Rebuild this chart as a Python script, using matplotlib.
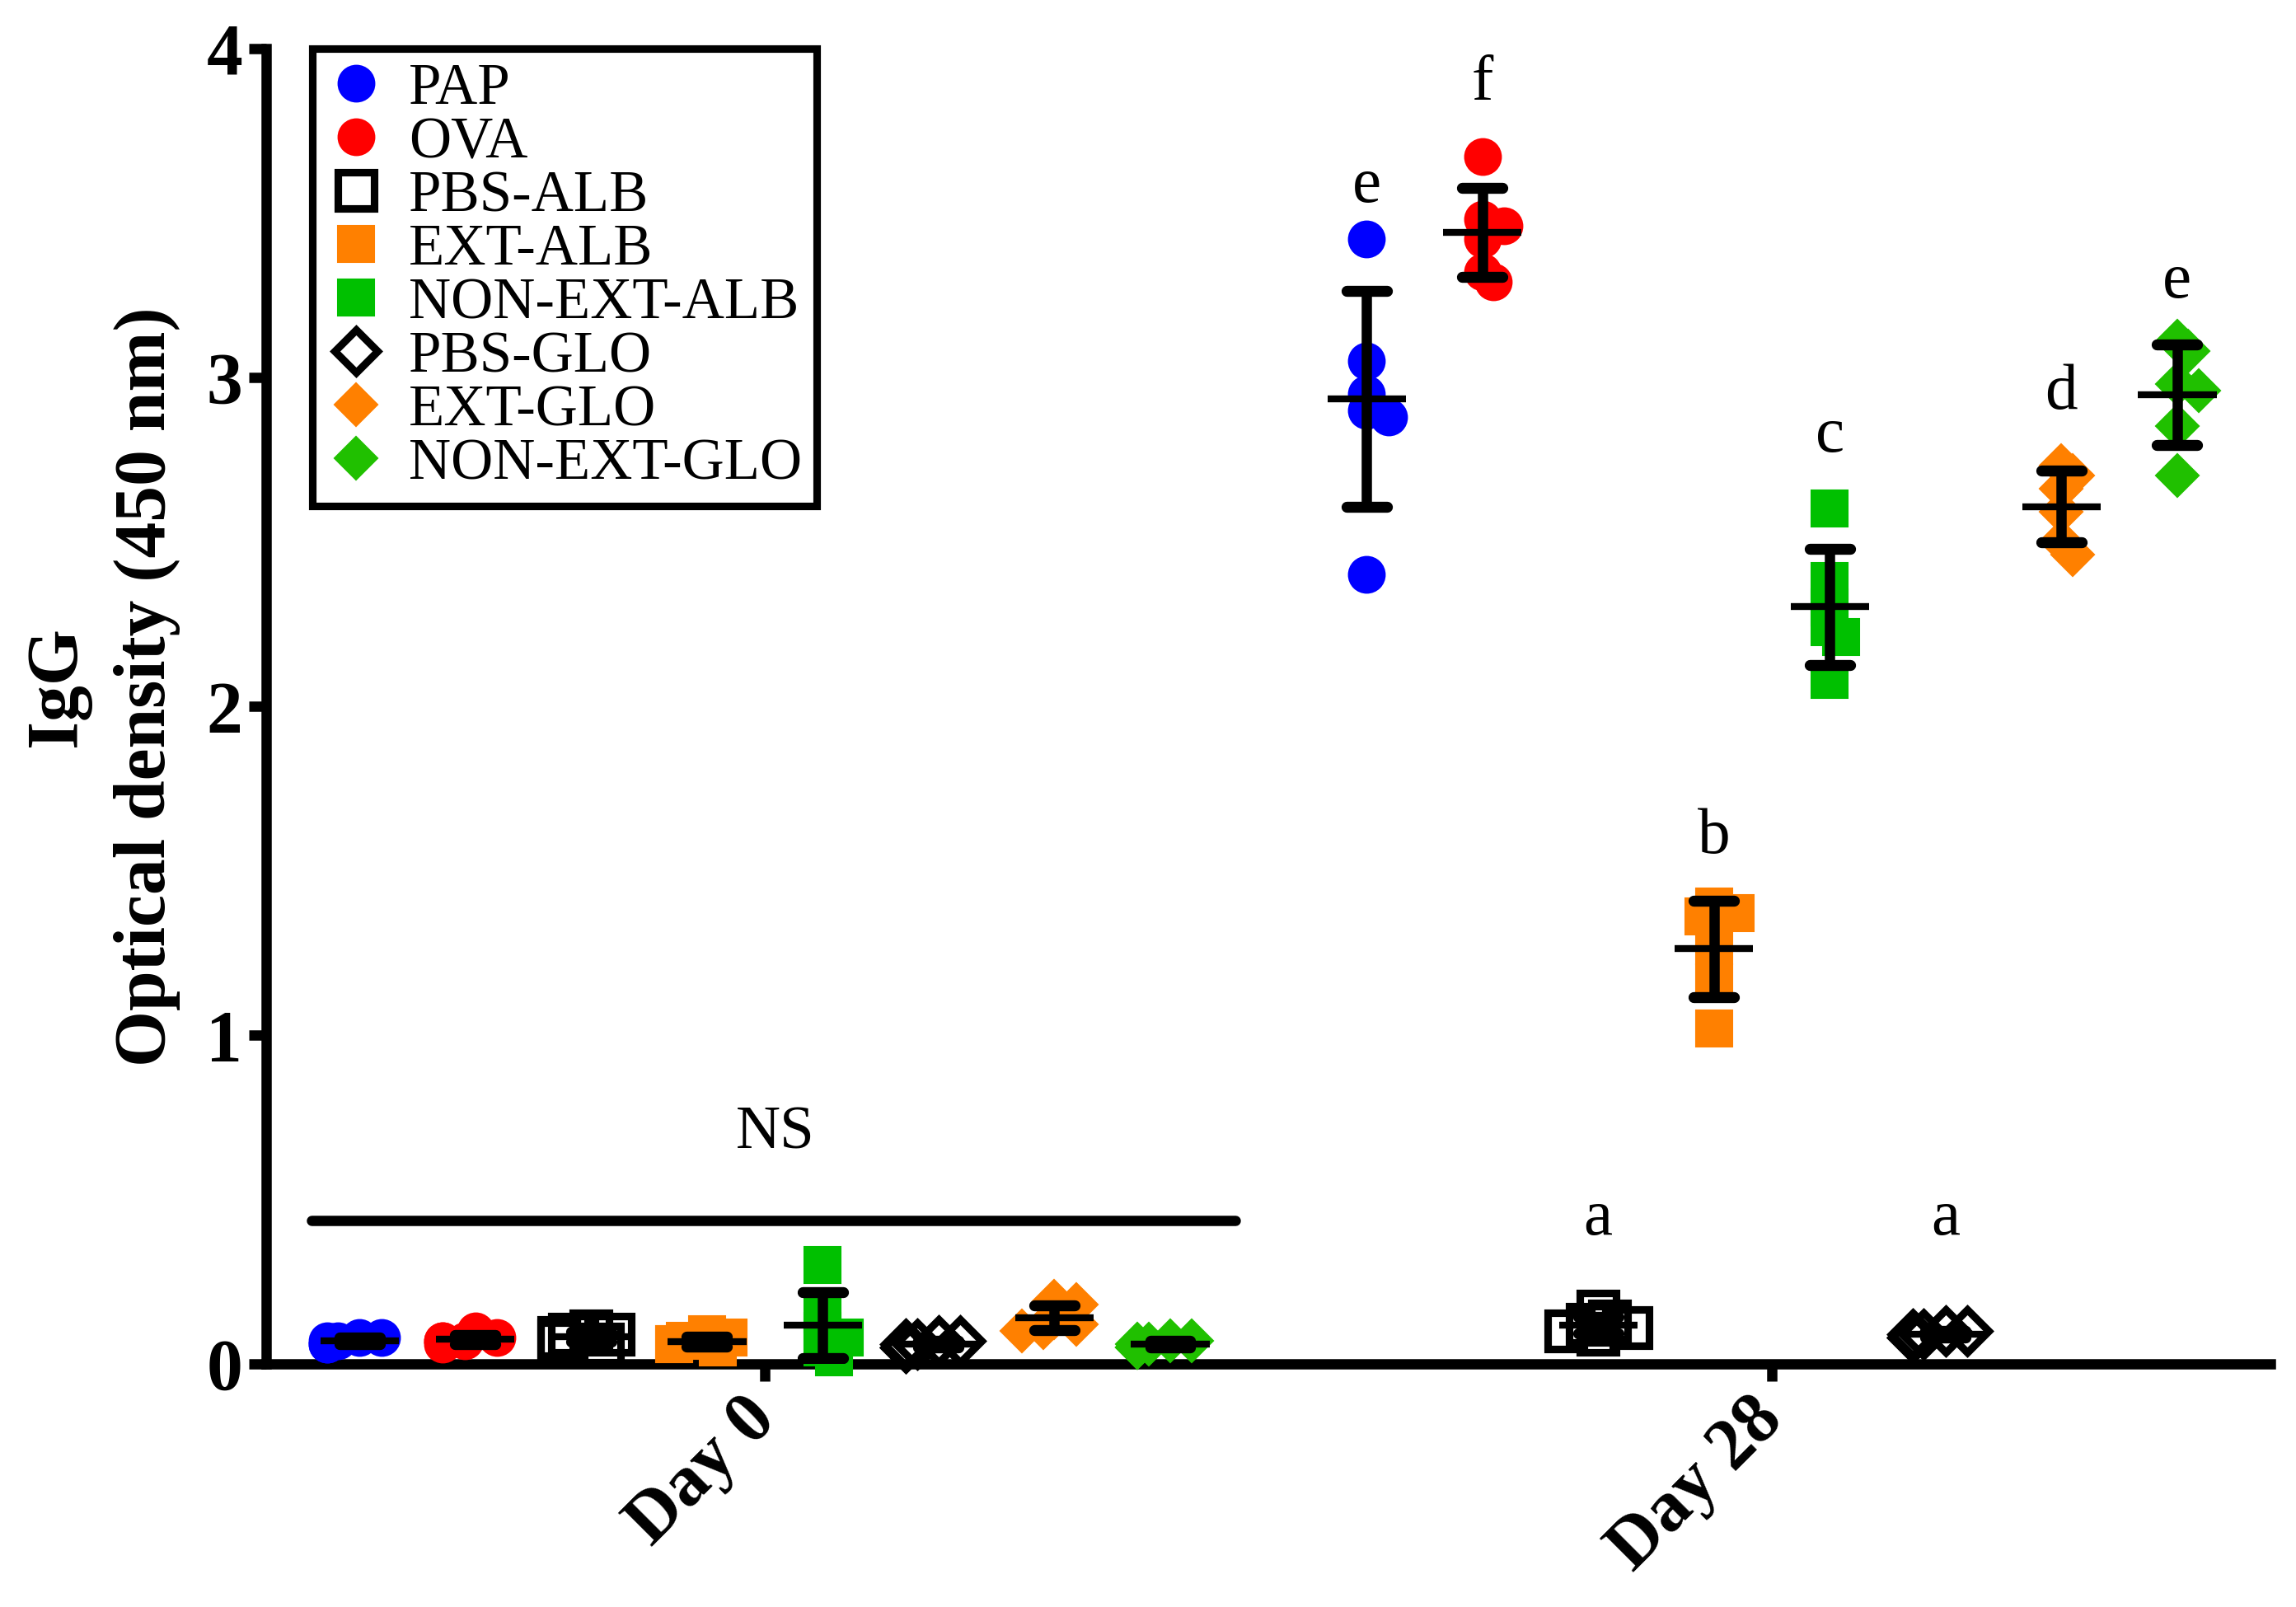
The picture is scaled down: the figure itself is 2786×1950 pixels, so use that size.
import numpy as np
import matplotlib
matplotlib.use('Agg')
import matplotlib.pyplot as plt
from matplotlib.lines import Line2D

plt.rcParams['font.family'] = ['Liberation Serif', 'DejaVu Serif']

# Datos (densidad óptica IgG, 450 nm)
days = ['Day 0', 'Day 28']
groups = ['PAP', 'OVA', 'PBS-ALB', 'EXT-ALB', 'NON-EXT-ALB', 'PBS-GLO', 'EXT-GLO', 'NON-EXT-GLO']

day0 = {
    'PAP': [0.06, 0.07, 0.07, 0.08, 0.08, 0.06],
    'OVA': [0.06, 0.07, 0.07, 0.08, 0.10, 0.07],
    'PBS-ALB': [0.09, 0.10, 0.07, 0.06, 0.08, 0.09],
    'EXT-ALB': [0.05, 0.06, 0.07, 0.08, 0.09, 0.06],
    'NON-EXT-ALB': [0.30, 0.15, 0.10, 0.08, 0.05, 0.02],
    'PBS-GLO': [0.05, 0.06, 0.07, 0.06, 0.07, 0.05],
    'EXT-GLO': [0.19, 0.18, 0.14, 0.12, 0.11, 0.10],
    'NON-EXT-GLO': [0.05, 0.06, 0.07, 0.06, 0.07, 0.05],
}
day28 = {
    'PAP': [3.42, 3.05, 2.95, 2.90, 2.88, 2.40],
    'OVA': [3.67, 3.48, 3.46, 3.42, 3.32, 3.29],
    'PBS-ALB': [0.16, 0.13, 0.12, 0.11, 0.10, 0.09],
    'EXT-ALB': [1.39, 1.37, 1.36, 1.27, 1.16, 1.02],
    'NON-EXT-ALB': [2.60, 2.38, 2.30, 2.24, 2.21, 2.08],
    'PBS-GLO': [0.10, 0.10, 0.09, 0.09, 0.08, 0.08],
    'EXT-GLO': [2.73, 2.70, 2.66, 2.59, 2.50, 2.46],
    'NON-EXT-GLO': [3.11, 3.08, 2.98, 2.96, 2.85, 2.70],
}
# Letras de significancia (día 28) y su altura
letters = ['e', 'f', 'a', 'b', 'c', 'a', 'd', 'e']
letter_y = [3.58, 3.89, 0.44, 1.60, 2.82, 0.44, 2.95, 3.29]
# Estilo por grupo: (marcador, relleno, borde)
styles = {
    'PAP': ('o', '#0000FF', '#0000FF'),
    'OVA': ('o', '#FF0000', '#FF0000'),
    'PBS-ALB': ('s', 'none', 'black'),
    'EXT-ALB': ('s', '#FF8000', '#FF8000'),
    'NON-EXT-ALB': ('s', '#00C000', '#00C000'),
    'PBS-GLO': ('D', 'none', 'black'),
    'EXT-GLO': ('D', '#FF8000', '#FF8000'),
    'NON-EXT-GLO': ('D', '#20C000', '#20C000'),
}

def swarm(vals, dx, dy):
    # reparte los puntos en horizontal (poco) para que no se tapen del todo
    vals = np.asarray(vals, dtype=float)
    offs = np.zeros(len(vals))
    placed = []
    for i in np.argsort(-vals):
        for k in [0, 1, -1, 2, -2, 3, -3]:
            ox = k * 0.3 * dx
            ok = True
            for (px, py) in placed:
                if ((ox - px) / dx) ** 2 + ((vals[i] - py) / dy) ** 2 < 0.4 ** 2:
                    ok = False
                    break
            if ok:
                break
        offs[i] = ox
        placed.append((ox, vals[i]))
    return offs

fig = plt.figure(figsize=(2787 / 300, 1950 / 300), dpi=300)
ax = fig.add_axes([0.116, 0.1513, 0.8725, 0.8187])
ax.set_xlim(-0.495, 1.495)
ax.set_ylim(0, 4)

spacing = 0.115
ms = 10.5
dx_m, dy_m = 0.036, 0.11
for d, data in enumerate([day0, day28]):
    for i, g in enumerate(groups):
        vals = np.array(data[g])
        xc = d + (i - 3.5) * spacing
        mk, fc, ec = styles[g]
        size = ms if mk != 'D' else ms * 0.85
        xs = xc + swarm(vals, dx_m, dy_m)
        ax.plot(xs, vals, linestyle='none', marker=mk, markersize=size,
                markerfacecolor=fc, markeredgecolor=ec,
                markeredgewidth=2.2 if fc == 'none' else 0.5, clip_on=False, zorder=3)
        m = vals.mean()
        sd = vals.std(ddof=1)
        ax.plot([xc, xc], [m - sd, m + sd], color='black', lw=3, zorder=4)
        for yc in [m - sd, m + sd]:
            ax.plot([xc - 0.02, xc + 0.02], [yc, yc], color='black', lw=3.2,
                    solid_capstyle='round', zorder=4)
        ax.hlines(m, xc - 0.039, xc + 0.039, color='black', lw=2, zorder=4)

for i, (lt, ly) in enumerate(zip(letters, letter_y)):
    ax.text(1 + (i - 3.5) * spacing, ly, lt, ha='center', va='center', fontsize=19)

ax.plot([-0.45, 0.467], [0.437, 0.437], color='black', lw=3, solid_capstyle='round')
ax.text(0.01, 0.70, 'NS', ha='center', va='center', fontsize=18)

for s in ['top', 'right']:
    ax.spines[s].set_visible(False)
for s in ['left', 'bottom']:
    ax.spines[s].set_linewidth(3)
ax.set_yticks([0, 1, 2, 3, 4])
ax.set_xticks([0, 1])
ax.set_xticklabels(days, rotation=45, ha='right', va='center', rotation_mode='anchor')
ax.tick_params(axis='both', width=3, length=5, labelsize=21)
ax.tick_params(axis='y', pad=2)
ax.tick_params(axis='x', pad=8)
for lab in ax.get_xticklabels() + ax.get_yticklabels():
    lab.set_fontweight('bold')
ax.set_ylabel('IgG\nOptical density (450 nm)', fontsize=21, fontweight='bold',
              linespacing=1.45)
ax.yaxis.set_label_coords(-0.043, 0.515)

handles = []
for g in groups:
    mk, fc, ec = styles[g]
    handles.append(Line2D([], [], linestyle='none', marker=mk,
                          markersize=ms if mk != 'D' else ms * 0.85,
                          markerfacecolor=fc, markeredgecolor=ec,
                          markeredgewidth=2.2 if fc == 'none' else 0.5))
leg = ax.legend(handles, groups, loc='upper left', bbox_to_anchor=(0.023, 1.0),
                borderaxespad=0, fontsize=17, frameon=True, fancybox=False,
                edgecolor='black', framealpha=1, labelspacing=0.0,
                handletextpad=0.4, borderpad=0.25, handlelength=1.0)
leg.get_frame().set_linewidth(2.2)

fig.savefig('out.png', dpi=300)
